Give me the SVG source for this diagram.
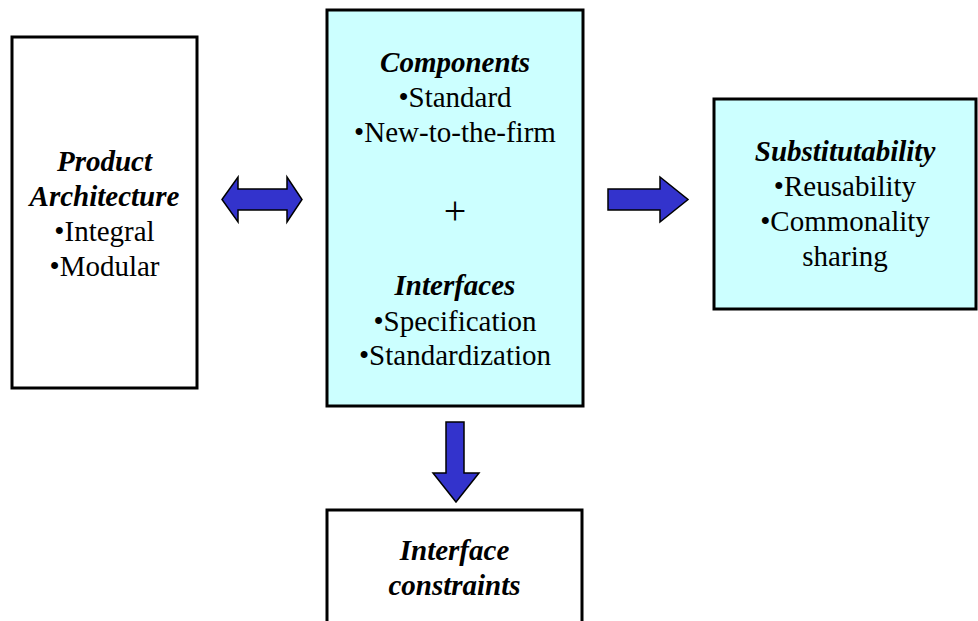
<svg xmlns="http://www.w3.org/2000/svg" width="978" height="621" viewBox="0 0 978 621">
<style>
  .box { stroke: #000; stroke-width: 3; }
  .white { fill: #FFFFFF; }
  .cyan { fill: #CCFFFF; }
  .arrow { fill: #3333CC; stroke: #000; stroke-width: 1.5; stroke-linejoin: miter; }
  text { font-size: 29px; fill: #000; text-anchor: middle; }
  .h { font-weight: bold; font-style: italic; }
  .plus { font-size: 40px; }
</style>
<rect width="978" height="621" fill="#FFFFFF"/>
<g font-family="'Liberation Serif', 'Times New Roman', Times, serif">
<g id="product-architecture">
  <rect class="box white" x="12" y="37" width="185" height="351"/>
  <text class="h" x="104.5" y="171">Product</text>
  <text class="h" x="104.5" y="206">Architecture</text>
  <text x="104.5" y="241">•Integral</text>
  <text x="104.5" y="276">•Modular</text>
</g>
<g id="components-interfaces">
  <rect class="box cyan" x="327" y="10" width="256" height="396"/>
  <text class="h" x="455" y="72">Components</text>
  <text x="455" y="107">•Standard</text>
  <text x="455" y="142">•New-to-the-firm</text>
  <text class="plus" x="455" y="224">+</text>
  <text class="h" x="455" y="295">Interfaces</text>
  <text x="455" y="331">•Specification</text>
  <text x="455" y="365">•Standardization</text>
</g>
<g id="substitutability">
  <rect class="box cyan" x="714" y="99" width="262" height="210"/>
  <text class="h" x="845" y="161">Substitutability</text>
  <text x="845" y="196">•Reusability</text>
  <text x="845" y="231">•Commonality</text>
  <text x="845" y="266">sharing</text>
</g>
<g id="interface-constraints">
  <path class="box white" d="M327,630 L327,510 L582,510 L582,630"/>
  <text class="h" x="454.5" y="560">Interface</text>
  <text class="h" x="454.5" y="595">constraints</text>
</g>
</g>
<g id="connectors">
  <polygon class="arrow" points="222,199.5 238,177 238,189 287,189 287,177 302,199.5 287,222 287,210 238,210 238,222"/>
  <polygon class="arrow" points="608,189 660,189 660,177 688,199.5 660,222 660,210 608,210"/>
  <polygon class="arrow" points="446,422 464,422 464,473 479,473 456,502 433,473 446,473"/>
</g>
</svg>
